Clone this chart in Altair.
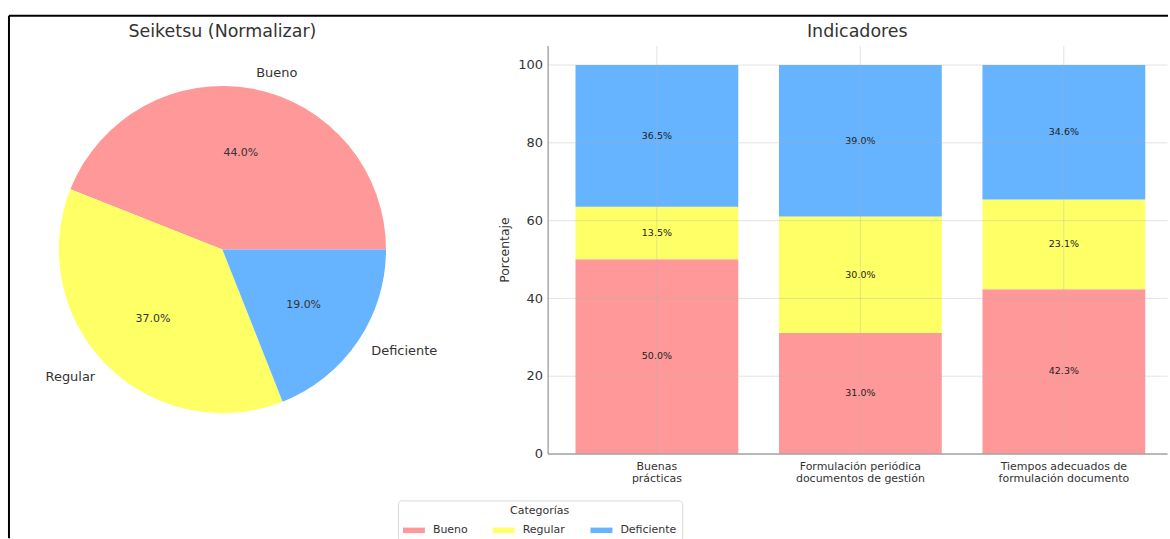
import json
import math

import altair as alt
import pandas as pd

# ---- data -------------------------------------------------------------
categorias = ["Bueno", "Regular", "Deficiente"]
colores = ["#ff9999", "#ffff66", "#66b3ff"]

# Seiketsu (Normalizar): share of each rating
seiketsu = [44.0, 37.0, 19.0]

# Indicators (stacked percentages)
indicadores = [
    "Buenas prácticas",
    "Formulación periódica documentos de gestión",
    "Tiempos adecuados de formulación documento",
]
lineas_etiqueta = [
    ["Buenas", "prácticas"],
    ["Formulación periódica", "documentos de gestión"],
    ["Tiempos adecuados de", "formulación documento"],
]
bueno = [50.0, 31.0, 42.3]
regular = [13.5, 30.0, 23.1]
deficiente = [36.5, 39.0, 34.6]

FONT = "DejaVu Sans"
TXT = "#333333"

pie_df = pd.DataFrame({"categoria": categorias, "valor": seiketsu, "orden": [0, 1, 2]})

rows = []
for i, ind in enumerate(indicadores):
    for j, (cat, serie) in enumerate(zip(categorias, [bueno, regular, deficiente])):
        rows.append({"indicador": ind, "categoria": cat, "valor": serie[i], "orden": j})
bar_df = pd.DataFrame(rows)

color_scale = alt.Scale(domain=categorias, range=colores)

# ---- figure frame (top and left edges) ---------------------------------
marco = pd.DataFrame({"k": [0]})
frame_top = alt.Chart(marco).mark_rule(color="black", strokeWidth=2).encode(
    x=alt.value(-13), x2=alt.value(1149), y=alt.value(-30)
)
frame_left = alt.Chart(marco).mark_rule(color="black", strokeWidth=2).encode(
    x=alt.value(-13), y=alt.value(-30), y2=alt.value(494)
)
frame = alt.layer(frame_top, frame_left).properties(width=1, height=409)

# ---- pie --------------------------------------------------------------
R = 164
# slices run clockwise from 3 o'clock: Deficiente, Regular, Bueno
theta_scale = alt.Scale(domain=[0, sum(seiketsu)], range=[math.pi / 2, math.pi / 2 + 2 * math.pi])

arcs = alt.Chart(pie_df).mark_arc(outerRadius=R).encode(
    theta=alt.Theta("valor:Q", stack=True, scale=theta_scale),
    color=alt.Color("categoria:N", scale=color_scale, legend=None),
    order=alt.Order("orden:Q", sort="descending"),
)

pie_txt = (
    alt.Chart(pie_df)
    .transform_window(acum="sum(valor)", sort=[alt.SortField("orden", order="descending")])
    .transform_joinaggregate(total="sum(valor)")
    .transform_calculate(
        medio="datum.acum - datum.valor / 2",
        lado="sin(PI / 2 + 2 * PI * datum.medio / datum.total)",
        pct="format(datum.valor, '.1f') + '%'",
    )
)
theta_mid = alt.Theta("medio:Q", stack=False, scale=theta_scale)

pct_labels = pie_txt.mark_text(radius=0.6 * R, fontSize=11, font=FONT, color=TXT).encode(
    theta=theta_mid, text="pct:N"
)
cat_right = (
    pie_txt.transform_filter("datum.lado >= 0")
    .mark_text(radius=1.1 * R, fontSize=13, font=FONT, color=TXT, align="left", baseline="middle")
    .encode(theta=theta_mid, text="categoria:N")
)
cat_left = (
    pie_txt.transform_filter("datum.lado < 0")
    .mark_text(radius=1.1 * R, fontSize=13, font=FONT, color=TXT, align="right", baseline="middle")
    .encode(theta=theta_mid, text="categoria:N")
)

pie = alt.layer(arcs, pct_labels, cat_right, cat_left).properties(
    width=400, height=409, title="Seiketsu (Normalizar)"
)

# ---- stacked bars ----------------------------------------------------
label_expr = json.dumps(dict(zip(indicadores, lineas_etiqueta)), ensure_ascii=False) + "[datum.value]"

x_enc = alt.X(
    "indicador:N",
    sort=indicadores,
    scale=alt.Scale(paddingInner=0.2, paddingOuter=0.122, align=0.562),
    axis=alt.Axis(
        title=None,
        labelAngle=0,
        labelExpr=label_expr,
        bandPosition=0.5,
        grid=True,
        ticks=False,
        labelPadding=7,
        labelFontSize=11,
        labelLineHeight=12.5,
        zindex=1,
    ),
)
y_scale = alt.Scale(domain=[0, 105], nice=False)
y_axis = alt.Axis(
    title="Porcentaje",
    values=[0, 20, 40, 60, 80, 100],
    grid=True,
    ticks=False,
    labelPadding=5,
    labelFontSize=13,
    titleFontSize=12.5,
    titlePadding=6,
    zindex=1,
)

bars = alt.Chart(bar_df).mark_bar().encode(
    x=x_enc,
    y=alt.Y("valor:Q", stack="zero", scale=y_scale, axis=y_axis),
    color=alt.Color(
        "categoria:N",
        scale=color_scale,
        legend=alt.Legend(
            title="Categorías",
            orient="none",
            legendX=-150,
            legendY=456,
            direction="horizontal",
            titleAnchor="middle",
            titleFontSize=11,
            titleFontWeight="normal",
            titleColor=TXT,
            titlePadding=3,
            labelFontSize=11,
            labelColor=TXT,
            labelOffset=8,
            columnPadding=25,
            symbolType="M-1,-0.25H1V0.25H-1Z",
            symbolSize=484,
            symbolStrokeWidth=0,
            symbolOpacity=1,
            padding=5,
            strokeColor="#d9d9d9",
            fillColor="white",
            cornerRadius=3,
        ),
    ),
    order=alt.Order("orden:Q"),
)

bar_labels = (
    alt.Chart(bar_df)
    .transform_stack(
        stack="valor", groupby=["indicador"], sort=[alt.SortField("orden")], as_=["y0", "y1"]
    )
    .transform_calculate(
        ymid="(datum.y0 + datum.y1) / 2", pct="format(datum.valor, '.1f') + '%'"
    )
    .mark_text(fontSize=9.5, font=FONT, color="#222222")
    .encode(
        x=alt.X("indicador:N", sort=indicadores),
        y=alt.Y("ymid:Q", scale=y_scale, title="Porcentaje"),
        text="pct:N",
    )
)

indic = alt.layer(bars, bar_labels).properties(width=621, height=409, title="Indicadores")

paneles = alt.hconcat(pie, indic, spacing=126, bounds="flush").resolve_scale(color="independent")

chart = (
    alt.hconcat(frame, paneles, spacing=0, bounds="flush")
    .resolve_scale(color="independent")
    .properties(padding={"left": 7, "top": 13, "right": 0, "bottom": 0}, background="white")
    .configure(font=FONT)
    .configure_view(stroke="transparent")
    .configure_axis(
        labelFont=FONT,
        titleFont=FONT,
        labelColor=TXT,
        titleColor=TXT,
        titleFontWeight="normal",
        domainColor="#808080",
        domainWidth=1,
        gridColor="#b0b0b0",
        gridOpacity=0.45,
        gridWidth=0.8,
    )
    .configure_title(font=FONT, fontSize=17.5, fontWeight="normal", color=TXT, offset=5, anchor="middle")
)

chart.save("out.html", embed_options={"renderer": "svg", "actions": False})
